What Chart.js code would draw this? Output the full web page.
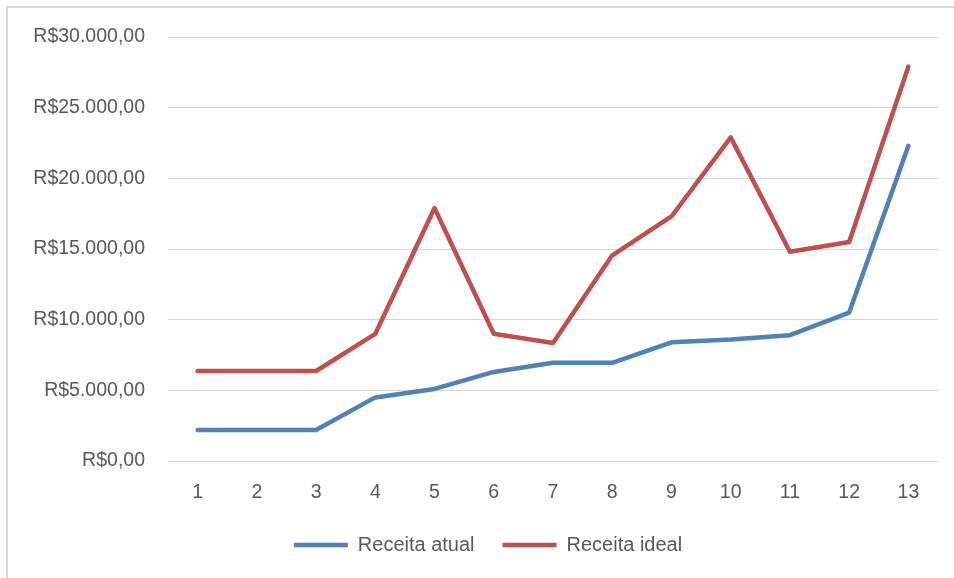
<!DOCTYPE html>
<html>
<head>
<meta charset="utf-8">
<script src="https://cdn.jsdelivr.net/npm/chart.js@4"></script>
<style>
  html, body { margin: 0; padding: 0; background: #fff; }
  #wrap { width: 954px; height: 578px; position: relative; }
</style>
</head>
<body>
<div id="wrap"><canvas id="c" width="954" height="578"></canvas></div>
<script>
const categories = ['1','2','3','4','5','6','7','8','9','10','11','12','13'];
const receitaAtual = [2200, 2200, 2200, 4500, 5100, 6300, 6950, 6950, 8400, 8600, 8900, 10500, 22300];
const receitaIdeal = [6370, 6370, 6370, 9000, 17900, 9000, 8350, 14550, 17300, 22900, 14800, 15500, 27900];
const seriesNames = ['Receita atual', 'Receita ideal'];

const textColor = '#595959';
const fontFamily = "'Liberation Sans', Arial, sans-serif";

function brl(v) {
  const s = Math.round(v).toString().replace(/\B(?=(\d{3})+(?!\d))/g, '.');
  return 'R$' + s + ',00';
}

const framePlugin = {
  id: 'frame',
  beforeDraw(chart) {
    const ctx = chart.ctx;
    ctx.save();
    ctx.fillStyle = '#fff';
    ctx.fillRect(0, 0, chart.width, chart.height);
    ctx.strokeStyle = '#D9D9D9';
    ctx.lineWidth = 2;
    ctx.beginPath();
    ctx.moveTo(7, chart.height);
    ctx.lineTo(7, 7);
    ctx.lineTo(chart.width, 7);
    ctx.stroke();
    ctx.restore();
  }
};

// shift the legend so it is centred like the original (whole frame was wider on the right)
const legendShift = {
  id: 'legendShift',
  afterLayout(chart) {
    if (chart.legend) {
      chart.legend.left += 14;
      chart.legend.right += 14;
    }
  }
};

new Chart(document.getElementById('c'), {
  type: 'line',
  data: {
    labels: categories,
    datasets: [
      {
        label: seriesNames[0],
        data: receitaAtual,
        borderColor: '#4F81BD',
        backgroundColor: '#4F81BD',
        borderWidth: 4.5,
        borderCapStyle: 'round',
        borderJoinStyle: 'round',
        pointRadius: 0,
        tension: 0
      },
      {
        label: seriesNames[1],
        data: receitaIdeal,
        borderColor: '#C0504D',
        backgroundColor: '#C0504D',
        borderWidth: 4.5,
        borderCapStyle: 'round',
        borderJoinStyle: 'round',
        pointRadius: 0,
        tension: 0
      }
    ]
  },
  options: {
    responsive: false,
    animation: false,
    devicePixelRatio: 1,
    layout: { padding: { left: 10, right: 16, top: 37, bottom: 13 } },
    plugins: {
      tooltip: { enabled: false },
      legend: {
        position: 'bottom',
        labels: {
          usePointStyle: true,
          pointStyle: 'line',
          pointStyleWidth: 54,
          padding: 28,
          color: textColor,
          font: { family: fontFamily, size: 20 }
        }
      }
    },
    scales: {
      x: {
        offset: true,
        grid: { display: false, drawTicks: false },
        border: { display: false },
        ticks: { color: textColor, padding: 20, font: { family: fontFamily, size: 19.5 } },
        afterFit(scale) { scale.height = 46; }
      },
      y: {
        min: 0,
        max: 30000,
        ticks: {
          stepSize: 5000,
          color: textColor,
          padding: 23,
          font: { family: fontFamily, size: 19.5 },
          callback: (v) => brl(v)
        },
        grid: { color: '#D9D9D9', lineWidth: 1, drawTicks: false },
        border: { display: false },
        afterFit(scale) { scale.width = 158; }
      }
    }
  },
  plugins: [framePlugin, legendShift]
});
</script>
</body>
</html>
